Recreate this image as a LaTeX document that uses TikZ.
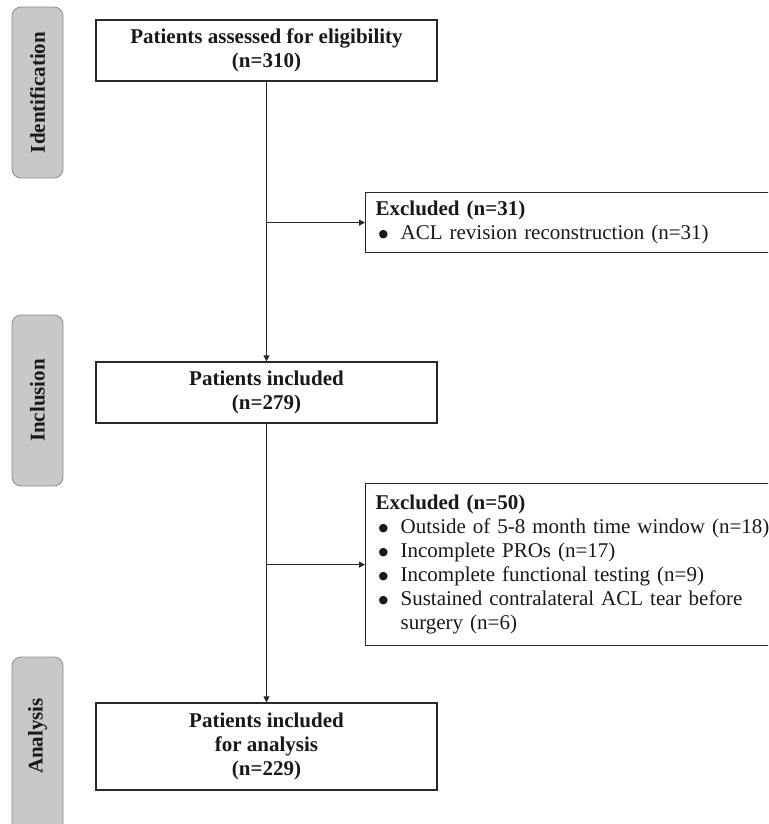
\documentclass[tikz,border=0pt]{standalone}
\usepackage{fontspec}
\setmainfont{Liberation Serif}
\newfontfamily\dejavu{DejaVu Sans}
\usetikzlibrary{arrows.meta}
\definecolor{linec}{RGB}{40,40,40}
\definecolor{sidefill}{RGB}{200,200,200}
\definecolor{sideborder}{RGB}{140,140,140}
\newcommand{\bul}[1]{\hspace*{3pt}\makebox[22pt][l]{\raisebox{2pt}{\dejavu\fontsize{11}{11}\selectfont ●}}#1}
\newcommand{\hang}[1]{\hspace*{25pt}#1}
\begin{document}
\begin{tikzpicture}[x=1pt,y=-1pt,
  every node/.style={font=\fontsize{21}{24}\selectfont, text=black!90},
  mainbox/.style={draw=linec, line width=1.2pt, fill=white, minimum width=341pt, align=center,
    font=\fontsize{21}{24}\selectfont\bfseries, inner sep=0pt},
  exbox/.style={draw=linec, line width=1.2pt, fill=white, anchor=north west, align=left,
    text width=400pt, inner xsep=10pt, inner ysep=0pt},
  sidebox/.style={draw=sideborder, fill=sidefill, rounded corners=9pt, minimum width=51pt, line width=0.8pt},
  sidetext/.style={rotate=90, font=\fontsize{21}{24}\selectfont\bfseries},
  arr/.style={draw=linec, line width=1.2pt, -{Triangle[length=6pt,width=6pt]}}
]
\useasboundingbox (0,0) rectangle (768,824);
\clip (0,0) rectangle (768,824);

% side labels
\node[sidebox, minimum height=171pt] (sid1) at (37.5,92.5) {};
\node[sidetext] (sidt1) at (sid1.center) {Identification};
\node[sidebox, minimum height=171pt] (sid2) at (37.5,400.5) {};
\node[sidetext] (sidt2) at (sid2.center) {Inclusion};
\node[sidebox, minimum height=190pt] (sid3) at (37.5,752) {};
\node[sidetext] (sidt3) at (37.5,736) {Analysis};

% main boxes
\node[mainbox, minimum height=61pt] (b1) at (266.5,50.5) {Patients assessed for eligibility\\(n=310)};
\node[mainbox, minimum height=61pt] (b2) at (266.5,392.5) {Patients included\\(n=279)};
\node[mainbox, minimum height=87pt] (b3) at (266.5,746.5) {Patients included\\for analysis\\(n=229)};

% excluded boxes
\node[exbox, minimum height=60pt] (e1) at (365,192) {\textbf{Excluded (n=31)}\\\bul{ACL revision reconstruction (n=31)}};
\node[exbox, minimum height=162pt] (e2) at (365,483) {\textbf{Excluded (n=50)}\\
\bul{Outside of 5-8 month time window (n=18)}\\
\bul{Incomplete PROs (n=17)}\\
\bul{Incomplete functional testing (n=9)}\\
\bul{Sustained contralateral ACL tear before}\\
\hang{surgery (n=6)}};

% connectors
\draw[arr] (b1.south) -- (b2.north);
\draw[arr] (b2.south) -- (b3.north);
\draw[arr] (b1.south |- e1.west) -- (e1.west);
\draw[arr] (b2.south |- e2.west) -- (e2.west);
\end{tikzpicture}
\end{document}
